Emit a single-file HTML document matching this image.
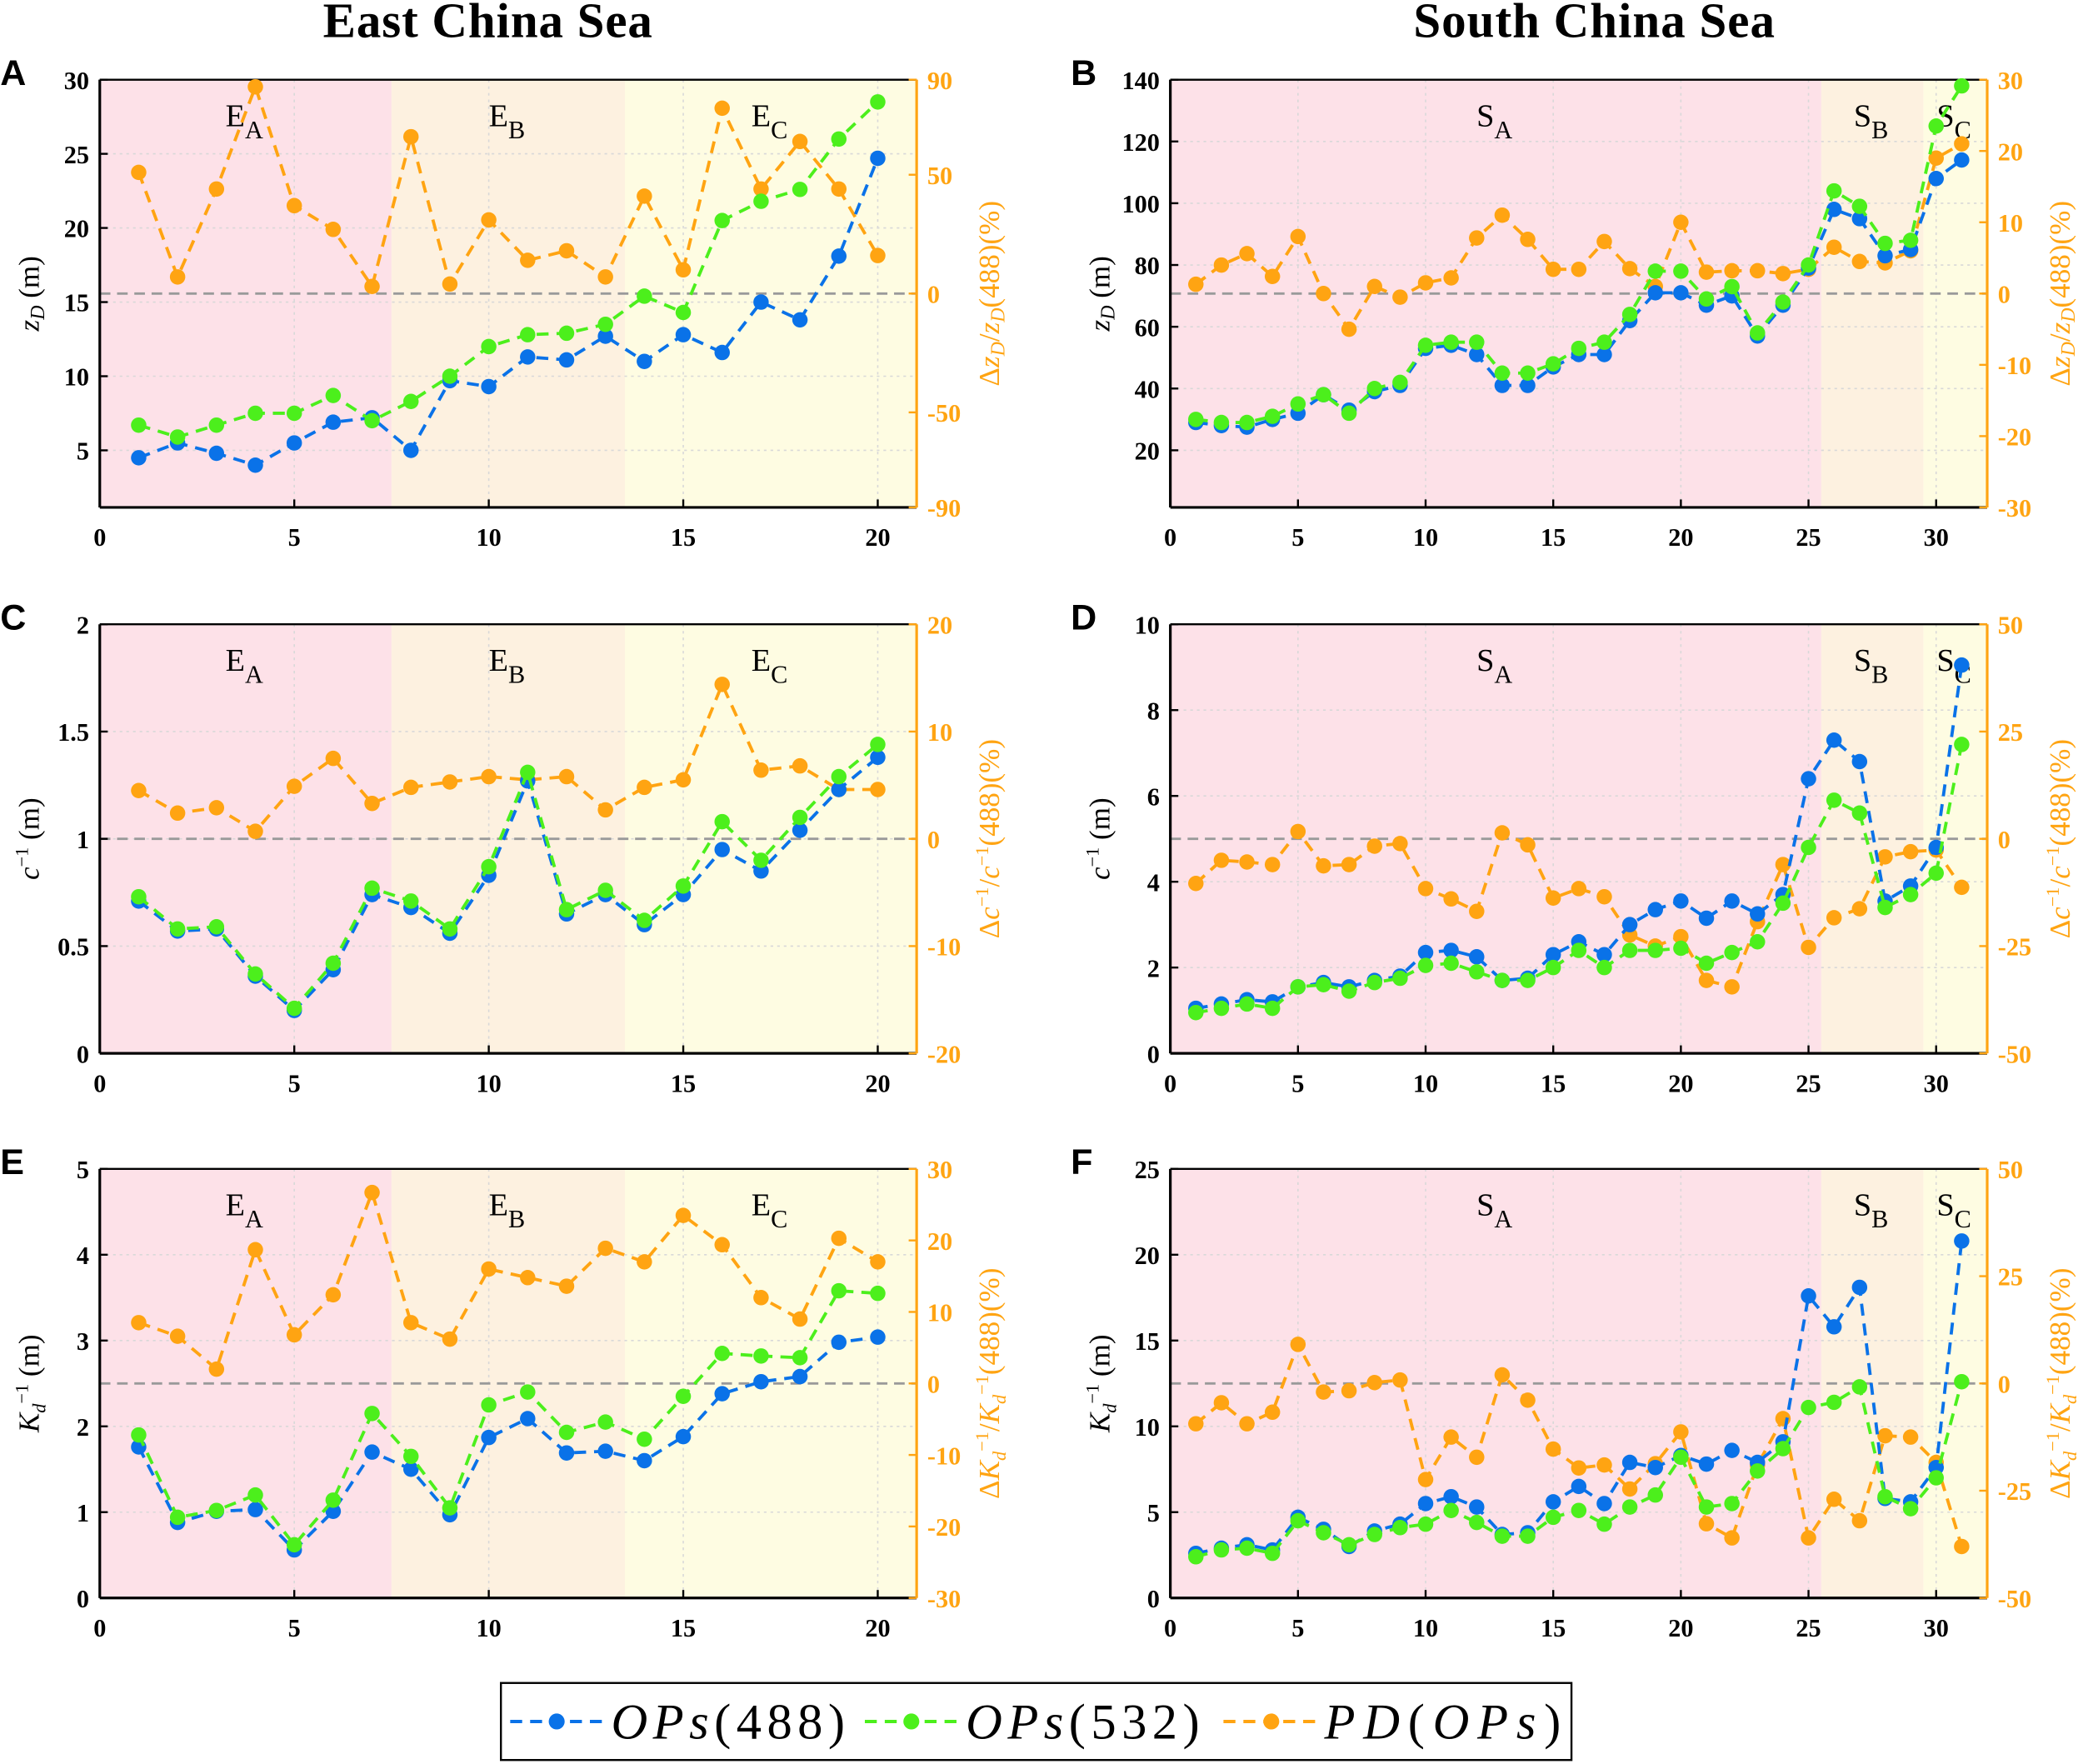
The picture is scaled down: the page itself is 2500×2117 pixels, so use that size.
<!DOCTYPE html>
<html><head><meta charset="utf-8">
<style>
html,body{margin:0;padding:0;background:#fff;}
svg{display:block;}
text{font-family:"Liberation Serif",serif;}
text.sans{font-family:"Liberation Sans",sans-serif;}
</style></head>
<body>
<svg id="fig" width="2500" height="2117" viewBox="0 0 1568 1328" xmlns="http://www.w3.org/2000/svg">
<text x="367" y="28" text-anchor="middle" font-size="37" font-weight="bold" textLength="248">East China Sea</text>
<text x="1200" y="28" text-anchor="middle" font-size="37" font-weight="bold" textLength="272">South China Sea</text>
<g>
<rect x="377" y="1267" width="806" height="58" fill="#fff" stroke="#000" stroke-width="1.5"/>
<g>
<line x1="384" y1="1296" x2="455" y2="1296" stroke="#0a72e8" stroke-width="2.5" stroke-dasharray="9,6"/><circle cx="419" cy="1296" r="6" fill="#0a72e8"/>
<text x="460" y="1309" font-size="38" textLength="176"><tspan font-style="italic">OPs</tspan>(488)</text></g>
<g>
<line x1="651" y1="1296" x2="722" y2="1296" stroke="#4cef1c" stroke-width="2.5" stroke-dasharray="9,6"/><circle cx="686" cy="1296" r="6" fill="#4cef1c"/>
<text x="727" y="1309" font-size="38" textLength="176"><tspan font-style="italic">OPs</tspan>(532)</text></g>
<g>
<line x1="921" y1="1296" x2="993" y2="1296" stroke="#ffa412" stroke-width="2.5" stroke-dasharray="9,6"/><circle cx="957" cy="1296" r="6" fill="#ffa412"/>
<text x="997" y="1309" font-size="38" textLength="178"><tspan font-style="italic">PD</tspan>(<tspan font-style="italic">OPs</tspan>)</text></g>
</g>
</svg>
<script>
// Panel A data (East China Sea, z_D)
const eastStations = [1,2,3,4,5,6,7,8,9,10,11,12,13,14,15,16,17,18,19,20];
const aBlue = [4.5,5.5,4.8,4.0,5.5,6.9,7.2,5.0,9.7,9.3,11.3,11.1,12.7,11.0,12.8,11.6,15.0,13.8,18.1,24.7];
const aGreen = [6.7,5.9,6.7,7.5,7.5,8.7,7.0,8.3,10.0,12.0,12.8,12.9,13.5,15.4,14.3,20.5,21.8,22.6,26.0,28.5];
const aPD = [51,7,44,87,37,27,3,66,4,31,14,18,7,41,10,78,44,64,44,16];
// Panel B data (South China Sea, z_D)
const southStations = [1,2,3,4,5,6,7,8,9,10,11,12,13,14,15,16,17,18,19,20,21,22,23,24,25,26,27,28,29,30,31];
const bBlue = [29,28,27.5,30,32,38,33,39,41,53,54,51,41,41,47,51,51,62,71,71,67,70,57,67,79,98,95,83,85,108,114];
const bGreen = [30,29,29,31,35,38,32,40,42,54,55,55,45,45,48,53,55,64,78,78,69,73,58,68,80,104,99,87,88,125,138];
const bPD = [1.3,4,5.6,2.4,8,0,-5,1,-0.5,1.5,2.2,7.8,11,7.6,3.4,3.4,7.3,3.5,1,10,3,3.2,3.2,2.8,3.4,6.5,4.5,4.3,6,19,21];
// Panel C
const cBlue = [.71,.57,.58,.36,.20,.39,.74,.68,.56,.83,1.27,.65,.74,.60,.74,.95,.85,1.04,1.23,1.38];
const cGreen = [.73,.58,.59,.37,.21,.42,.77,.71,.58,.87,1.31,.67,.76,.62,.78,1.08,.90,1.10,1.29,1.44];
const cPD = [4.5,2.4,2.9,0.7,4.9,7.5,3.3,4.8,5.3,5.8,5.5,5.8,2.7,4.8,5.5,14.4,6.4,6.8,4.6,4.6];
// Panel D
const dBlue = [1.05,1.15,1.25,1.2,1.55,1.65,1.55,1.7,1.8,2.35,2.4,2.25,1.7,1.75,2.3,2.6,2.3,3.0,3.35,3.55,3.15,3.55,3.25,3.7,6.4,7.3,6.8,3.55,3.9,4.8,9.05];
const dGreen = [0.95,1.05,1.15,1.05,1.55,1.6,1.45,1.65,1.75,2.05,2.1,1.9,1.7,1.7,2.0,2.4,2.0,2.4,2.4,2.45,2.1,2.35,2.6,3.5,4.8,5.9,5.6,3.4,3.7,4.2,7.2];
const dPD = [-10.4,-5,-5.4,-6,1.7,-6.3,-6,-1.7,-1.1,-11.6,-14,-16.9,1.4,-1.4,-13.8,-11.6,-13.5,-22.4,-25,-22.8,-33,-34.5,-19.3,-6,-25.3,-18.4,-16.3,-4.2,-3,-2.6,-11.3];
// Panel E
const eBlue = [1.76,0.88,1.01,1.03,0.56,1.01,1.70,1.50,0.97,1.87,2.09,1.69,1.71,1.60,1.88,2.38,2.52,2.58,2.98,3.04];
const eGreen = [1.90,0.94,1.02,1.20,0.62,1.14,2.15,1.65,1.05,2.25,2.40,1.93,2.05,1.85,2.35,2.85,2.82,2.80,3.58,3.55];
const ePD = [8.5,6.6,2,18.7,6.8,12.4,26.7,8.5,6.2,16,14.8,13.6,18.9,17,23.5,19.4,12,9,20.3,17];
// Panel F
const fBlue = [2.6,2.9,3.1,2.8,4.7,4.0,3.0,3.9,4.3,5.5,5.9,5.3,3.7,3.8,5.6,6.5,5.5,7.9,7.6,8.3,7.8,8.6,7.9,9.1,17.6,15.8,18.1,5.8,5.6,7.6,20.8];
const fGreen = [2.4,2.8,2.9,2.6,4.5,3.8,3.1,3.7,4.1,4.3,5.1,4.4,3.6,3.6,4.7,5.1,4.3,5.3,6.0,8.2,5.3,5.5,7.4,8.7,11.1,11.4,12.3,5.9,5.2,7.0,12.6];
const fPD = [-9.4,-4.5,-9.4,-6.7,9.1,-2,-1.7,0.2,0.8,-22.4,-12.5,-17.2,2,-3.9,-15.3,-19.7,-19,-24.6,-18.7,-11.3,-32.7,-36,-19,-8.2,-36,-27,-32,-12.2,-12.5,-18.4,-38];
// tick labels
const eastXTicks = [0,5,10,15,20];
const southXTicks = [0,5,10,15,20,25,30];
const aLeftTicks = [5,10,15,20,25,30];
const aRightTicks = [-90,-50,0,50,90];
const bLeftTicks = [20,40,60,80,100,120,140];
const bRightTicks = [-30,-20,-10,0,10,20,30];
const cLeftTicks = [0,0.5,1,1.5,2];
const cRightTicks = [-20,-10,0,10,20];
const dLeftTicks = [0,2,4,6,8,10];
const dRightTicks = [-50,-25,0,25,50];
const eLeftTicks = [0,1,2,3,4,5];
const eRightTicks = [-30,-20,-10,0,10,20,30];
const fLeftTicks = [0,5,10,15,20,25];
const fRightTicks = [-50,-25,0,25,50];

const NS="http://www.w3.org/2000/svg";
const svg=document.getElementById('fig');
const ORANGE="#ffa412", BLUE="#0a72e8", GREEN="#4cef1c";
function mk(tag,attrs,parent){const e=document.createElementNS(NS,tag);for(const k in attrs)e.setAttribute(k,attrs[k]);(parent||svg).appendChild(e);return e;}

function panel(o){
  const g=mk('g',{});
  
  
  const sx=v=>o.x0+(v-0)/(o.xmax)*(o.x1-o.x0);
  const sl=v=>o.y1-(v-o.lmin)/(o.lmax-o.lmin)*(o.y1-o.y0);
  const sr=v=>o.y1-(v-o.rmin)/(o.rmax-o.rmin)*(o.y1-o.y0);
  const cols=['#fde1e8','#fdf1e0','#fefce2'];
  let prev=0;
  o.regions.forEach((r,i)=>{
    const end=i<o.regions.length-1?r:o.xmax;
    const rc=mk('rect',{x:sx(prev),y:o.y0,width:sx(end)-sx(prev),height:o.y1-o.y0,fill:cols[i]},g);
    
    
    const lx=(sx(prev)+sx(end))/2;
    const t=mk('text',{x:lx-1,y:o.y0+35,'font-size':24,'text-anchor':'middle'},g);
    t.innerHTML=o.rlabels[i][0]+'<tspan font-size="19" dy="9">'+o.rlabels[i][1]+'</tspan>';
    
    
    prev=end;
  });
  o.xt.forEach(v=>{ if(v>0) mk('line',{x1:sx(v),x2:sx(v),y1:o.y0,y2:o.y1,stroke:'#d8d8d8','stroke-width':1,'stroke-dasharray':'2,3'},g);});
  o.lt.forEach(v=>{ mk('line',{x1:o.x0,x2:o.x1,y1:sl(v),y2:sl(v),stroke:'#d8d8d8','stroke-width':1,'stroke-dasharray':'2,3'},g);});
  const zl=mk('line',{x1:o.x0,x2:o.x1,y1:sr(0),y2:sr(0),stroke:'#9a9a9a','stroke-width':1.8,'stroke-dasharray':'8,5'},g);
  
  
  mk('line',{x1:o.x0,x2:o.x1,y1:o.y0,y2:o.y0,stroke:'#000','stroke-width':1.5},g);
  mk('line',{x1:o.x0,x2:o.x1,y1:o.y1,y2:o.y1,stroke:'#000','stroke-width':2},g);
  mk('line',{x1:o.x0,x2:o.x0,y1:o.y0,y2:o.y1,stroke:'#000','stroke-width':2},g);
  mk('line',{x1:o.x1,x2:o.x1,y1:o.y0,y2:o.y1,stroke:ORANGE,'stroke-width':2},g);
  o.xt.forEach(v=>{
    mk('line',{x1:sx(v),x2:sx(v),y1:o.y1,y2:o.y1-6,stroke:'#000','stroke-width':1.5},g);
    const t=mk('text',{x:sx(v),y:o.y1+29,'font-size':19,'text-anchor':'middle','font-weight':'bold'},g);
    t.textContent=v;
    
    
  });
  o.lt.forEach(v=>{
    mk('line',{x1:o.x0,x2:o.x0+6,y1:sl(v),y2:sl(v),stroke:'#000','stroke-width':1.5},g);
    const t=mk('text',{x:o.x0-8,y:sl(v)+7,'font-size':19,'text-anchor':'end','font-weight':'bold'},g);
    t.textContent=v;
    
    
  });
  o.rt.forEach(v=>{
    mk('line',{x1:o.x1,x2:o.x1-6,y1:sr(v),y2:sr(v),stroke:ORANGE,'stroke-width':1.5},g);
    const t=mk('text',{x:o.x1+8,y:sr(v)+7,'font-size':19,'font-weight':'bold',fill:ORANGE},g);
    t.textContent=v;
    
    
  });
  const my=(o.y0+o.y1)/2;
  const yl=mk('text',{x:0,y:0,'font-size':22,'text-anchor':'middle',transform:`translate(${o.x0-46},${my}) rotate(-90)`},g);
  yl.innerHTML=o.ylab;
  
  
  const yr=mk('text',{x:0,y:0,'font-size':22,'text-anchor':'middle',fill:ORANGE,transform:`translate(${o.x1+62},${my}) rotate(-90)`},g);
  yr.innerHTML=o.rlab;
  
  
  const pl=mk('text',{x:o.x0-75,y:o.y0+4,'font-size':27,'font-weight':'bold','class':'sans'},g);
  pl.textContent=o.letter;
  
  
  function series(xs,ys,scale,col,name){
    const sg=mk('g',{},g);
    
    
    mk('polyline',{points:xs.map((x,i)=>sx(x)+','+scale(ys[i])).join(' '),fill:'none',stroke:col,'stroke-width':2.4,'stroke-dasharray':'9,6'},sg);
    xs.forEach((x,i)=>{
      const c=mk('circle',{cx:sx(x),cy:scale(ys[i]),r:5.8,fill:col},sg);
      
      
    });
  }
  series(o.xs,o.pd,sr,ORANGE,'pd-series');
  series(o.xs,o.blue,sl,BLUE,'ops488-series');
  series(o.xs,o.green,sl,GREEN,'ops532-series');
}
const eastR=[7.5,13.5,21], southR=[25.5,29.5,32];
const eL=[['E','A'],['E','B'],['E','C']], sL=[['S','A'],['S','B'],['S','C']];
const zlab='<tspan font-style="italic">z</tspan><tspan font-style="italic" font-size="15" dy="4">D</tspan><tspan dy="-4"> (m)</tspan>';
const zr='Δ<tspan font-style="italic">z</tspan><tspan font-style="italic" font-size="15" dy="4">D</tspan><tspan dy="-4">/</tspan><tspan font-style="italic">z</tspan><tspan font-style="italic" font-size="15" dy="4">D</tspan><tspan dy="-4">(488)(%)</tspan>';
const clab='<tspan font-style="italic">c</tspan><tspan font-size="14" dy="-8">−1</tspan><tspan dy="8"> (m)</tspan>';
const cr='Δ<tspan font-style="italic">c</tspan><tspan font-size="14" dy="-8">−1</tspan><tspan dy="8">/</tspan><tspan font-style="italic">c</tspan><tspan font-size="14" dy="-8">−1</tspan><tspan dy="8">(488)(%)</tspan>';
const klab='<tspan font-style="italic">K</tspan><tspan font-style="italic" font-size="14" dy="5">d</tspan><tspan font-size="14" dy="-13">−1</tspan><tspan dy="8"> (m)</tspan>';
const kr='Δ<tspan font-style="italic">K</tspan><tspan font-style="italic" font-size="14" dy="5">d</tspan><tspan font-size="14" dy="-13">−1</tspan><tspan dy="8">/</tspan><tspan font-style="italic">K</tspan><tspan font-style="italic" font-size="14" dy="5">d</tspan><tspan font-size="14" dy="-13">−1</tspan><tspan dy="8">(488)(%)</tspan>';
const E={x0:75,x1:690,xmax:21,xs:eastStations,xt:eastXTicks,regions:eastR,rlabels:eL};
const S={x0:881,x1:1496,xmax:32,xs:southStations,xt:southXTicks,regions:southR,rlabels:sL};
panel(Object.assign({},E,{letter:'A',y0:60,y1:382,lmin:1.15,lmax:30,rmin:-90,rmax:90,lt:aLeftTicks,rt:aRightTicks,blue:aBlue,green:aGreen,pd:aPD,ylab:zlab,rlab:zr}));
panel(Object.assign({},S,{letter:'B',y0:60,y1:382,lmin:1.5,lmax:140,rmin:-30,rmax:30,lt:bLeftTicks,rt:bRightTicks,blue:bBlue,green:bGreen,pd:bPD,ylab:zlab,rlab:zr}));
panel(Object.assign({},E,{letter:'C',y0:470,y1:793,lmin:0,lmax:2,rmin:-20,rmax:20,lt:cLeftTicks,rt:cRightTicks,blue:cBlue,green:cGreen,pd:cPD,ylab:clab,rlab:cr}));
panel(Object.assign({},S,{letter:'D',y0:470,y1:793,lmin:0,lmax:10,rmin:-50,rmax:50,lt:dLeftTicks,rt:dRightTicks,blue:dBlue,green:dGreen,pd:dPD,ylab:clab,rlab:cr}));
panel(Object.assign({},E,{letter:'E',y0:880,y1:1203,lmin:0,lmax:5,rmin:-30,rmax:30,lt:eLeftTicks,rt:eRightTicks,blue:eBlue,green:eGreen,pd:ePD,ylab:klab,rlab:kr}));
panel(Object.assign({},S,{letter:'F',y0:880,y1:1203,lmin:0,lmax:25,rmin:-50,rmax:50,lt:fLeftTicks,rt:fRightTicks,blue:fBlue,green:fGreen,pd:fPD,ylab:klab,rlab:kr}));
</script>
</body></html>
